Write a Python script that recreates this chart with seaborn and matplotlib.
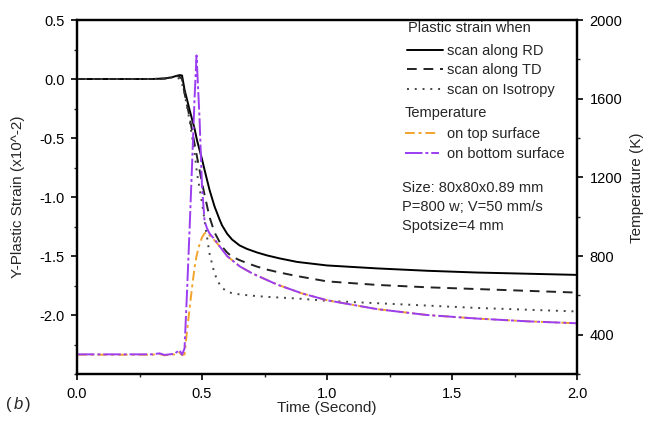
import matplotlib
matplotlib.use("Agg")
import matplotlib.pyplot as plt
import seaborn as sns
import numpy as np
import pandas as pd
from matplotlib.ticker import MultipleLocator

# ---------------- data ----------------
t_strain = [0.0, 0.1, 0.2, 0.3, 0.35, 0.38, 0.40, 0.41, 0.42, 0.43, 0.45, 0.47, 0.48,
            0.50, 0.51, 0.53, 0.55, 0.57, 0.58, 0.60, 0.62, 0.65, 0.68, 0.72, 0.76, 0.81,
            0.88, 1.0, 1.2, 1.4, 1.6, 1.8, 2.0]
strain_rd = [0.0, 0.0, 0.0, 0.0, 0.004, 0.015, 0.028, 0.033, 0.03, -0.09, -0.26, -0.42, -0.52,
             -0.68, -0.77, -0.94, -1.08, -1.19, -1.24, -1.31, -1.36, -1.41, -1.44, -1.47, -1.495,
             -1.52, -1.55, -1.58, -1.605, -1.625, -1.64, -1.65, -1.66]
strain_td = [0.0, 0.0, 0.0, 0.0, 0.004, 0.015, 0.025, 0.02, 0.0, -0.12, -0.32, -0.55, -0.66,
             -0.88, -0.98, -1.17, -1.30, -1.38, -1.42, -1.47, -1.505, -1.535, -1.56, -1.59, -1.615,
             -1.64, -1.67, -1.715, -1.745, -1.765, -1.78, -1.795, -1.81]
strain_iso = [0.0, 0.0, 0.0, 0.0, 0.004, 0.012, 0.015, 0.0, -0.04, -0.12, -0.35, -0.62, -0.80,
              -1.05, -1.20, -1.48, -1.65, -1.74, -1.77, -1.80, -1.815, -1.825, -1.832, -1.84, -1.846,
              -1.852, -1.86, -1.88, -1.90, -1.92, -1.94, -1.955, -1.97]

t_temp = [0.0, 0.1, 0.2, 0.3, 0.33, 0.35, 0.37, 0.39, 0.41, 0.42, 0.43, 0.44, 0.45, 0.46,
          0.47, 0.478, 0.49, 0.50, 0.51, 0.52, 0.53, 0.55, 0.57, 0.60, 0.65, 0.70, 0.80, 0.90,
          1.0, 1.2, 1.4, 1.6, 1.8, 2.0]
temp_bottom = [300, 300, 300, 300, 305, 297, 300, 303, 322, 298, 330, 620, 930, 1260,
               1600, 1820, 1500, 1150, 980, 940, 915, 885, 850, 800, 748, 712, 655, 610,
               575, 530, 500, 482, 468, 458]
temp_top = [298, 298, 298, 298, 302, 295, 298, 300, 310, 296, 300, 420, 530, 640,
            740, 800, 860, 895, 915, 920, 905, 880, 850, 800, 748, 712, 655, 610,
            575, 530, 500, 482, 468, 458]

df_s = pd.DataFrame({"t": t_strain, "rd": strain_rd, "td": strain_td, "iso": strain_iso})
df_t = pd.DataFrame({"t": t_temp, "top": temp_top, "bottom": temp_bottom})

# ---------------- style ----------------
sns.set_theme(style="ticks")
plt.rcParams["font.family"] = ["Liberation Sans", "DejaVu Sans"]
plt.rcParams["font.size"] = 10

fig = plt.figure(figsize=(6.55, 4.23), dpi=100)
ax = fig.add_axes([0.1176, 0.1158, 0.7634, 0.8369])
ax2 = ax.twinx()

c_top = "#f2a42c"
c_bot = "#9b3df0"

sns.lineplot(data=df_s, x="t", y="rd", ax=ax, color="black", lw=1.4, estimator=None)
sns.lineplot(data=df_s, x="t", y="td", ax=ax, color="#222222", lw=1.4,
             linestyle=(0, (5, 3.5)), estimator=None)
sns.lineplot(data=df_s, x="t", y="iso", ax=ax, color="#444444", lw=1.4,
             linestyle=(0, (1, 3)), estimator=None)

sns.lineplot(data=df_t, x="t", y="top", ax=ax2, color=c_top, lw=1.4,
             linestyle=(0, (5, 2, 1.5, 2)), estimator=None)
sns.lineplot(data=df_t, x="t", y="bottom", ax=ax2, color=c_bot, lw=1.4,
             linestyle=(0, (9, 1.5, 1.5, 1.5)), estimator=None)

# axes limits / ticks
ax.set_xlim(0, 2.0)
ax.set_ylim(-2.5, 0.5)
ax2.set_ylim(200, 2000)
ax.set_xticks([0.0, 0.5, 1.0, 1.5, 2.0])
ax.set_xticklabels(["0.0", "0.5", "1.0", "1.5", "2.0"])
ax.set_yticks([0.5, 0.0, -0.5, -1.0, -1.5, -2.0])
ax.set_yticklabels(["0.5", "0.0", "-0.5", "-1.0", "-1.5", "-2.0"])
ax2.set_yticks([400, 800, 1200, 1600, 2000])
ax2.set_yticklabels(["400", "800", "1200", "1600", "2000"])
ax.xaxis.set_minor_locator(MultipleLocator(0.25))
ax.yaxis.set_minor_locator(MultipleLocator(0.25))
ax2.yaxis.set_minor_locator(MultipleLocator(200))

for a in (ax, ax2):
    for s in a.spines.values():
        s.set_linewidth(1.6)
        s.set_color("black")
    a.tick_params(which="major", direction="out", length=4, width=1.2, labelsize=10.5,
                  colors="black", pad=5)
    a.tick_params(which="minor", direction="out", length=2.5, width=1.0)

ax.set_xlabel("")
ax.set_ylabel("")
ax2.set_ylabel("")

fig.text(0.027, 0.535, "Y-Plastic Strain (x10^-2)", rotation=90, ha="center", va="center", fontsize=11)
fig.text(0.973, 0.555, "Temperature (K)", rotation=90, ha="center", va="center", fontsize=11)
fig.text(0.4995, 0.036, "Time (Second)", ha="center", va="center", fontsize=11)
fig.text(0.009, 0.043, "(", ha="left", va="center", fontsize=12)
fig.text(0.021, 0.043, "b", ha="left", va="center", fontsize=12, style="italic")
fig.text(0.038, 0.043, ")", ha="left", va="center", fontsize=12)

# legends
fs_leg = 10.5
lines_s = ax.get_lines()[:3]
lines_t = ax2.get_lines()[:2]
ax2.text(0.662, 0.977, "Plastic strain when", transform=ax2.transAxes, va="center", ha="left",
         fontsize=fs_leg)
leg1 = ax2.legend(handles=list(lines_s), labels=["scan along RD", "scan along TD", "scan on Isotropy"],
                  loc="upper left", bbox_to_anchor=(0.66, 0.932),
                  frameon=False, fontsize=fs_leg, handlelength=2.45, handletextpad=0.27,
                  labelspacing=0.37, borderpad=0, borderaxespad=0)
ax2.add_artist(leg1)
ax2.text(0.656, 0.737, "Temperature", transform=ax2.transAxes, va="center", ha="left",
         fontsize=fs_leg)
leg2 = ax2.legend(handles=list(lines_t), labels=["on top surface", "on bottom surface"],
                  loc="upper left", bbox_to_anchor=(0.656, 0.697),
                  frameon=False, fontsize=fs_leg, handlelength=2.35, handletextpad=0.5,
                  labelspacing=0.37, borderpad=0, borderaxespad=0)

ax2.text(0.65, 0.525, "Size: 80x80x0.89 mm", transform=ax2.transAxes, va="center", ha="left", fontsize=fs_leg)
ax2.text(0.65, 0.472, "P=800 w; V=50 mm/s", transform=ax2.transAxes, va="center", ha="left", fontsize=fs_leg)
ax2.text(0.65, 0.418, "Spotsize=4 mm", transform=ax2.transAxes, va="center", ha="left", fontsize=fs_leg)

fig.savefig("out.png", dpi=100)
